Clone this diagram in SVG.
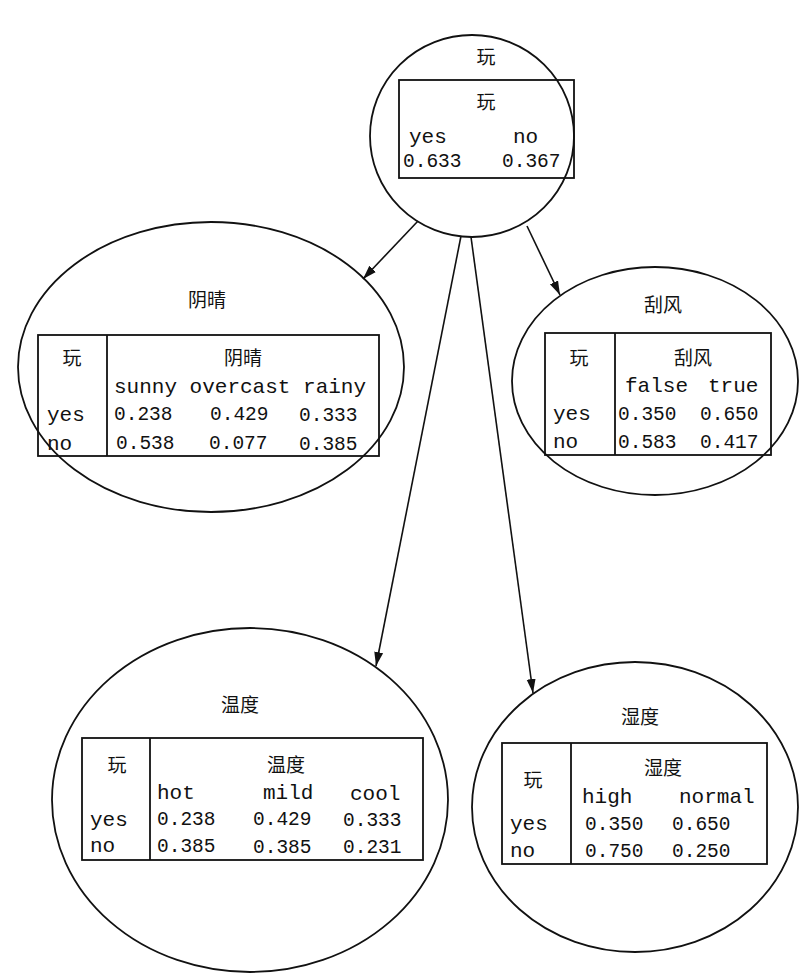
<svg xmlns="http://www.w3.org/2000/svg" width="800" height="974" viewBox="0 0 800 974">
<defs>
<marker id="ah" viewBox="0 0 14 10" refX="14" refY="5" markerWidth="14" markerHeight="10" orient="auto" markerUnits="userSpaceOnUse">
<path d="M0,0.5 L14,5 L0,9.5 Z" fill="#111"/>
</marker>
</defs>
<style>
.node{fill:#fff;stroke:#111;stroke-width:1.8}
.tbl{fill:none;stroke:#111;stroke-width:1.8}
.cjk{font-family:"Noto Sans CJK SC","Noto Sans CJK JP",sans-serif;font-size:19px;fill:#111;text-anchor:middle}
.mono{font-family:"Liberation Mono","DejaVu Sans Mono",monospace;font-size:21px;fill:#111}
.num{font-family:"Liberation Mono","DejaVu Sans Mono",monospace;font-size:19.5px;fill:#111}
.edge{stroke:#111;stroke-width:1.6;fill:none;marker-end:url(#ah)}
</style>
<rect width="800" height="974" fill="#fff"/>
<g id="node-play">
<ellipse class="node" cx="472" cy="136" rx="102" ry="101"/>
<text class="cjk" x="486" y="64">玩</text>
<rect class="tbl" x="399" y="80" width="175" height="98"/>
<text class="cjk" x="486" y="109">玩</text>
<text class="mono" x="409" y="143">yes</text>
<text class="mono" x="513" y="143">no</text>
<text class="num" x="403" y="167">0.633</text>
<text class="num" x="502" y="167">0.367</text>
</g>
<g id="node-outlook">
<ellipse class="node" cx="211" cy="367" rx="193" ry="145"/>
<text class="cjk" x="207" y="307">阴晴</text>
<rect class="tbl" x="38" y="335" width="341" height="121"/>
<line class="tbl" x1="107" y1="335" x2="107" y2="456"/>
<text class="cjk" x="72" y="365">玩</text>
<text class="cjk" x="243" y="365">阴晴</text>
<text class="mono" x="114" y="393">sunny overcast rainy</text>
<text class="mono" x="47" y="421">yes</text>
<text class="mono" x="47" y="450">no</text>
<text class="num" x="114" y="420">0.238</text>
<text class="num" x="210" y="420">0.429</text>
<text class="num" x="299" y="421">0.333</text>
<text class="num" x="116" y="449">0.538</text>
<text class="num" x="209" y="449">0.077</text>
<text class="num" x="299" y="450">0.385</text>
</g>
<g id="node-windy">
<ellipse class="node" cx="655" cy="381" rx="143" ry="114"/>
<text class="cjk" x="663" y="312">刮风</text>
<rect class="tbl" x="545" y="333" width="226" height="122"/>
<line class="tbl" x1="615" y1="333" x2="615" y2="455"/>
<text class="cjk" x="579" y="365">玩</text>
<text class="cjk" x="693" y="365">刮风</text>
<text class="mono" x="625" y="392">false</text>
<text class="mono" x="708" y="392">true</text>
<text class="mono" x="553" y="420">yes</text>
<text class="mono" x="553" y="448">no</text>
<text class="num" x="618" y="420">0.350</text>
<text class="num" x="700" y="420">0.650</text>
<text class="num" x="618" y="448">0.583</text>
<text class="num" x="700" y="448">0.417</text>
</g>
<g id="node-temperature">
<ellipse class="node" cx="250" cy="800" rx="198" ry="172"/>
<text class="cjk" x="240" y="712">温度</text>
<rect class="tbl" x="82" y="738" width="341" height="122"/>
<line class="tbl" x1="150" y1="738" x2="150" y2="860"/>
<text class="cjk" x="117" y="772">玩</text>
<text class="cjk" x="286" y="772">温度</text>
<text class="mono" x="157" y="799">hot</text>
<text class="mono" x="263" y="799">mild</text>
<text class="mono" x="350" y="800">cool</text>
<text class="mono" x="90" y="826">yes</text>
<text class="mono" x="90" y="852">no</text>
<text class="num" x="157" y="825">0.238</text>
<text class="num" x="253" y="825">0.429</text>
<text class="num" x="343" y="826">0.333</text>
<text class="num" x="157" y="852">0.385</text>
<text class="num" x="253" y="853">0.385</text>
<text class="num" x="343" y="853">0.231</text>
</g>
<g id="node-humidity">
<ellipse class="node" cx="635" cy="807" rx="163" ry="145"/>
<text class="cjk" x="640" y="724">湿度</text>
<rect class="tbl" x="502" y="743" width="265" height="121"/>
<line class="tbl" x1="571" y1="743" x2="571" y2="864"/>
<text class="cjk" x="533" y="787">玩</text>
<text class="cjk" x="663" y="775">湿度</text>
<text class="mono" x="582" y="803">high</text>
<text class="mono" x="679" y="803">normal</text>
<text class="mono" x="510" y="830">yes</text>
<text class="mono" x="510" y="857">no</text>
<text class="num" x="585" y="830">0.350</text>
<text class="num" x="672" y="830">0.650</text>
<text class="num" x="585" y="857">0.750</text>
<text class="num" x="672" y="857">0.250</text>
</g>
<g id="connectors">
<line class="edge" x1="418" y1="221" x2="363" y2="279"/>
<line class="edge" x1="527" y1="226" x2="560" y2="295"/>
<line class="edge" x1="461" y1="236" x2="376" y2="666"/>
<line class="edge" x1="471" y1="237" x2="533" y2="693"/>
</g>
</svg>
